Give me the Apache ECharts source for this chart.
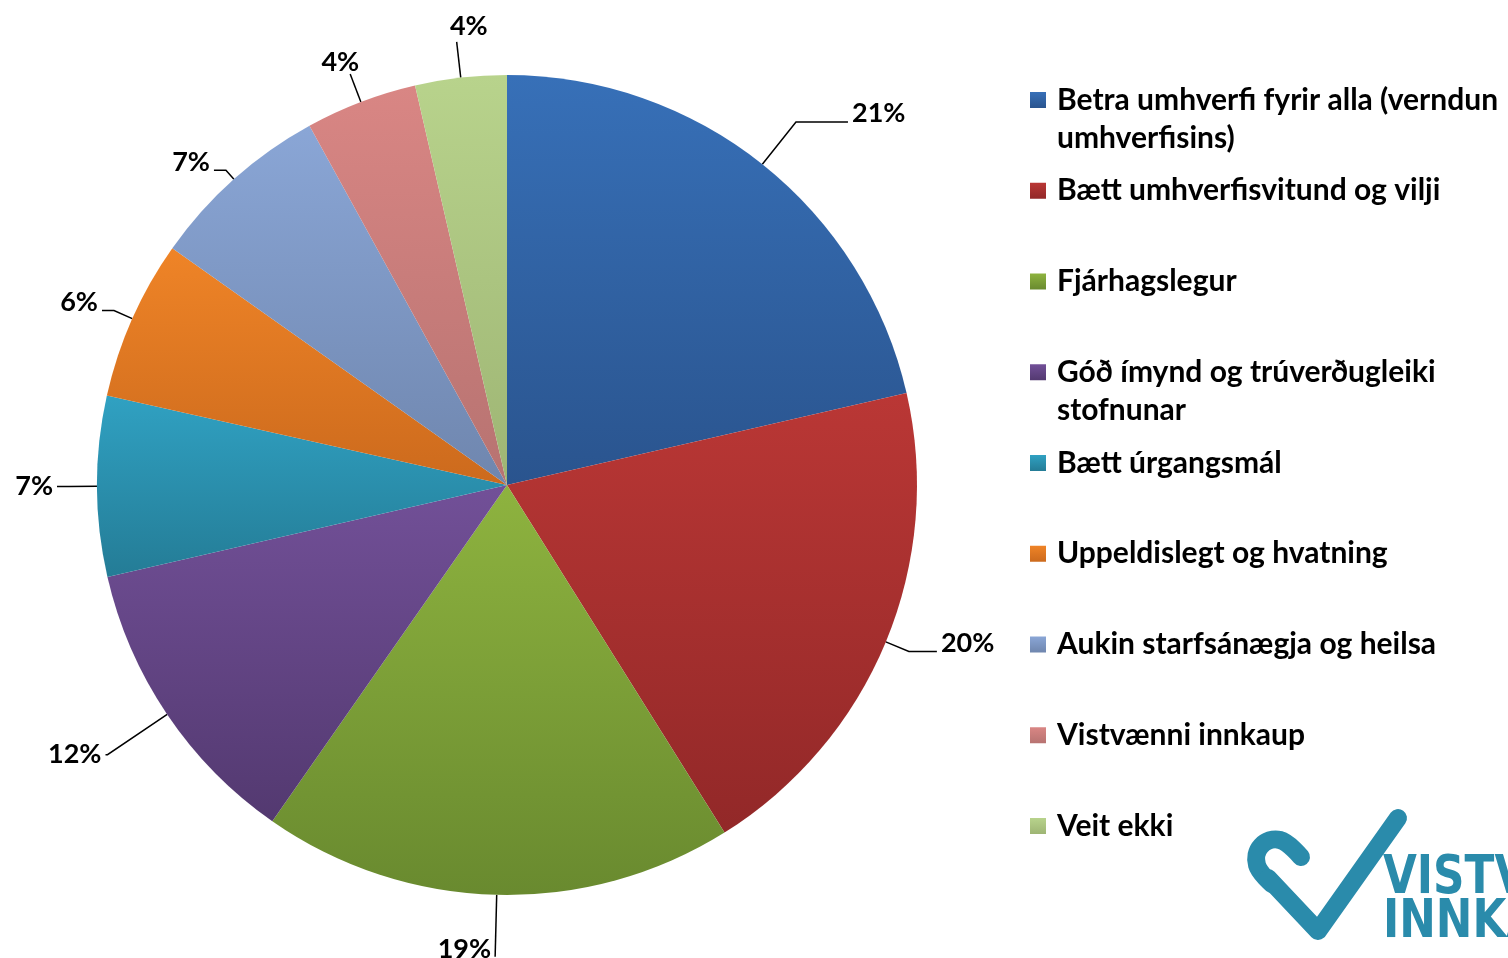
<!DOCTYPE html>
<html>
<head>
<meta charset="utf-8">
<script src="https://cdn.jsdelivr.net/npm/echarts@6/dist/echarts.min.js"></script>
<style>
  html, body { margin: 0; padding: 0; background: #fff; }
  #chart { width: 1508px; height: 958px; }
</style>
</head>
<body>
<div id="chart"></div>
<script>
// categories (legend order = slice order, clockwise from 12 o'clock)
const categories = [
  'Betra umhverfi fyrir alla (verndun umhverfisins)',
  'Bætt umhverfisvitund og vilji',
  'Fjárhagslegur',
  'Góð ímynd og trúverðugleiki stofnunar',
  'Bætt úrgangsmál',
  'Uppeldislegt og hvatning',
  'Aukin starfsánægja og heilsa',
  'Vistvænni innkaup',
  'Veit ekki'
];
// share of answers, %
const values = [21.4, 19.7, 18.6, 11.7, 7.1, 6.3, 7.2, 4.4, 3.6];

// styling: gradient top / bottom per slice
const colTop = ['#3770b8', '#ba3735', '#8eb33f', '#725098', '#30a1c2', '#ef8427', '#8aa6d6', '#d98684', '#b8d38c'];
const colBot = ['#2a548e', '#922828', '#698a2f', '#533970', '#247c96', '#cc6a1d', '#6f86ae', '#b77371', '#9eb574'];
// label line [length, length2] per slice
const lineLen = [[54, 52], [25, 28], [62, 0], [72, 2], [28, 12], [20, 12], [12, 12], [30, 0], [36, 0]];
// label nudge [dx, dy]: text sits a little above the end of its line
const labelShift = [[0, -9], [0, -8], [0, -8], [0, 0], [0, 0], [0, -8], [0, -8], [13, -12], [35, -16]];
// two-line legend entries (leading empty line keeps the marker on the first line)
const legendText = {
  'Betra umhverfi fyrir alla (verndun umhverfisins)': '\nBetra umhverfi fyrir alla (verndun\numhverfisins)',
  'Góð ímynd og trúverðugleiki stofnunar': '\nGóð ímynd og trúverðugleiki\nstofnunar'
};

const FONT = 'Lato';
const LOGO = '#2a8bab';
const LOGO_FONT = 'bold 54px "DejaVu Sans Condensed", "Liberation Sans Narrow", sans-serif';
const chart = echarts.init(document.getElementById('chart'));

function grad(i) {
  return {
    type: 'linear', x: 0, y: 0, x2: 0, y2: 1,
    colorStops: [
      { offset: 0, color: colTop[i] },
      { offset: 1, color: colBot[i] }
    ]
  };
}

const pieData = categories.map((name, i) => ({
  name: name,
  value: values[i],
  itemStyle: { color: grad(i) },
  labelLine: { length: lineLen[i][0], length2: lineLen[i][1] }
}));

const legendData = categories.map(name => ({
  name: name,
  textStyle: {
    // every text box 114px tall, centred on the marker
    padding: legendText[name] ? [0, 0, 0, 6] : [38, 0, 38, 6]
  }
}));

chart.setOption({
  backgroundColor: '#fff',
  animation: false,
  legend: {
    orient: 'vertical',
    left: 1030,
    top: 43,
    padding: 0,
    itemGap: -23.25,
    itemWidth: 16,
    itemHeight: 16,
    icon: 'rect',
    selectedMode: false,
    data: legendData,
    formatter: name => legendText[name] || name,
    textStyle: {
      fontFamily: FONT,
      fontWeight: 'bold',
      fontSize: 30,
      lineHeight: 38,
      color: '#000',
      backgroundColor: 'rgba(0,0,0,0)'
    }
  },
  graphic: [
    {
      type: 'polyline',
      shape: {
        points: [[1301, 857], [1280, 840], [1261, 846], [1257, 865], [1272, 884]],
        smooth: 0.4
      },
      style: { fill: 'none', stroke: LOGO, lineWidth: 18, lineCap: 'round', lineJoin: 'round' }
    },
    {
      type: 'polyline',
      shape: { points: [[1268, 878], [1318, 931], [1398, 818]] },
      style: { fill: 'none', stroke: LOGO, lineWidth: 18, lineCap: 'round', lineJoin: 'round' }
    },
    {
      type: 'text',
      x: 1383, y: 852, scaleX: 0.9,
      style: { text: 'VISTVÆN', fill: LOGO, font: LOGO_FONT }
    },
    {
      type: 'text',
      x: 1383, y: 896, scaleX: 0.9,
      style: { text: 'INNKAUP', fill: LOGO, font: LOGO_FONT }
    }
  ],
  series: [{
    type: 'pie',
    center: [507, 485],
    radius: 410,
    startAngle: 90,
    clockwise: true,
    avoidLabelOverlap: false,
    data: pieData,
    label: {
      show: true,
      position: 'outside',
      formatter: p => Math.round(p.value) + '%',
      fontFamily: FONT,
      fontWeight: 'bold',
      fontSize: 27,
      color: '#000',
      distanceToLabelLine: 4
    },
    labelLine: {
      show: true,
      smooth: false,
      lineStyle: { color: '#000', width: 1.5 }
    },
    labelLayout: function (p) {
      const s = labelShift[p.dataIndex];
      return { dx: s[0], dy: s[1] };
    },
    emphasis: { disabled: true }
  }]
});
</script>
</body>
</html>
